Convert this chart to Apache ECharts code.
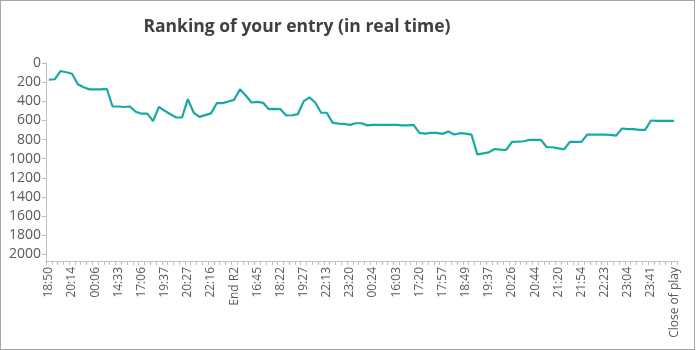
<!DOCTYPE html>
<html>
<head>
<meta charset="utf-8">
<script src="https://cdn.jsdelivr.net/npm/echarts@6/dist/echarts.min.js"></script>
<style>
  html, body { margin: 0; padding: 0; background: #fff; }
  #chart { position: absolute; left: 0; top: 0; width: 699px; height: 350px; }
  #frame { position: absolute; left: 0; top: 0; width: 695px; height: 350px;
           box-sizing: border-box; border: 1px solid #a6a6a6; pointer-events: none; }
</style>
</head>
<body>
<div id="chart"></div>
<div id="frame"></div>
<script>
// Labelled snapshot times (one every fourth snapshot)
const tickLabels = ['18:50','20:14','00:06','14:33','17:06','19:37','20:27','22:16','End R2',
  '16:45','18:22','19:27','22:13','23:20','00:24','16:03','17:20','17:57','18:49','19:37',
  '20:26','20:44','21:20','21:54','22:23','23:04','23:41','Close of play'];

// Ranking at each snapshot
const ranking = [175,170,84,97,112,222,254,276,276,276,271,455,455,460,455,510,530,530,608,458,
  500,535,570,570,378,518,563,545,527,420,420,402,385,275,340,413,406,416,483,480,
  483,549,546,535,402,360,413,518,520,623,633,637,647,630,630,652,647,647,647,647,
  647,652,652,647,731,738,731,731,741,717,748,734,738,748,955,945,934,899,906,909,
  825,822,818,804,804,804,881,881,892,902,825,825,825,748,748,748,748,752,759,685,
  692,692,699,699,601,605,605,605,605];

// Rank axis ticks
const rankTicks = [0,200,400,600,800,1000,1200,1400,1600,1800,2000];

// One category per snapshot; only every fourth one carries a time label
const categories = ranking.map((_, i) => (i % 4 === 0 ? (tickLabels[i / 4] || '') : ''));

const chart = echarts.init(document.getElementById('chart'), null, { renderer: 'canvas' });
const fontFamily = '"Open Sans", "Noto Sans", sans-serif';

chart.setOption({
  animation: false,
  backgroundColor: '#ffffff',
  title: {
    text: 'Ranking of your entry (in real time)',
    left: 292,
    top: 13,
    textAlign: 'center',
    textStyle: { fontFamily, fontSize: 17.5, fontWeight: 'bold', color: '#404040' }
  },
  grid: { left: 46, right: 22, top: 63, bottom: 89 },
  xAxis: {
    type: 'category',
    data: categories,
    boundaryGap: true,
    axisLine: { onZero: false, lineStyle: { color: '#bfbfbf', width: 1 } },
    axisTick: { show: true, interval: 0, length: 4, lineStyle: { color: '#bfbfbf' } },
    axisLabel: {
      interval: 3, rotate: 90, margin: 6,
      fontFamily, fontSize: 12, color: '#595959'
    },
    splitLine: { show: false }
  },
  yAxis: {
    type: 'value',
    inverse: true,
    min: 0,
    max: 2070,
    axisLine: { show: true, lineStyle: { color: '#bfbfbf', width: 1 } },
    axisTick: { show: true, length: 4, lineStyle: { color: '#bfbfbf' }, customValues: rankTicks },
    axisLabel: {
      fontFamily, fontSize: 14, color: '#595959', margin: 5,
      customValues: rankTicks,
      formatter: (v) => String(v)
    },
    splitLine: { show: false }
  },
  series: [{
    type: 'line',
    data: ranking,
    symbol: 'none',
    lineStyle: { color: '#17a9a3', width: 2.2 },
    itemStyle: { color: '#17a9a3' }
  }]
});
</script>
</body>
</html>
